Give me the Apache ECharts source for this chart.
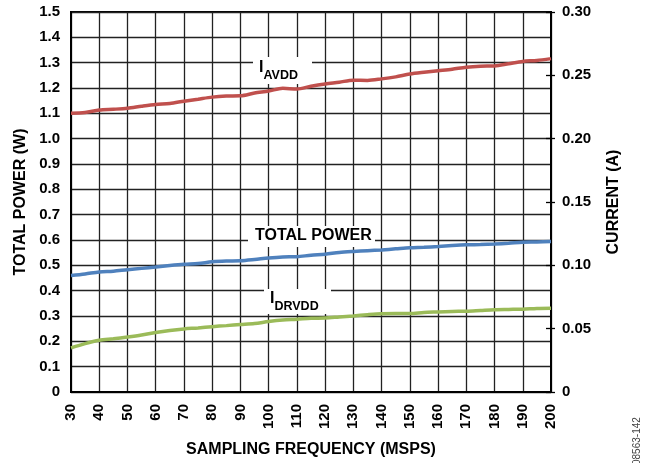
<!DOCTYPE html>
<html><head><meta charset="utf-8">
<script src="https://cdn.jsdelivr.net/npm/echarts@6/dist/echarts.min.js"></script>
<style>html,body{margin:0;padding:0;background:#fff}#c{width:649px;height:463px}</style>
</head><body><div id="c"></div>
<script>
var freq = [30,35,40,45,50,55,60,65,70,75,80,85,90,95,100,105,110,115,120,125,130,135,140,145,150,155,160,165,170,175,180,185,190,195,200];
// Total power (W), left axis
var totalPower = [0.460,0.466,0.474,0.477,0.483,0.488,0.493,0.499,0.504,0.507,0.514,0.517,0.518,0.523,0.529,0.533,0.534,0.540,0.544,0.551,0.555,0.558,0.561,0.565,0.569,0.571,0.574,0.578,0.581,0.582,0.584,0.587,0.591,0.592,0.594];
// I_AVDD current (A), right axis
var iAvdd = [0.2200,0.2206,0.2226,0.2232,0.2240,0.2256,0.2270,0.2278,0.2296,0.2312,0.2328,0.2336,0.2338,0.2360,0.2376,0.2398,0.2392,0.2414,0.2432,0.2446,0.2462,0.2460,0.2472,0.2488,0.2510,0.2524,0.2536,0.2548,0.2564,0.2572,0.2574,0.2592,0.2610,0.2618,0.2632];
// I_DRVDD current (A), right axis
var iDrvdd = [0.0348,0.0382,0.0408,0.0420,0.0434,0.0450,0.0470,0.0486,0.0498,0.0506,0.0516,0.0524,0.0532,0.0540,0.0556,0.0568,0.0574,0.0582,0.0584,0.0592,0.0600,0.0610,0.0618,0.0620,0.0620,0.0628,0.0632,0.0636,0.0638,0.0644,0.0650,0.0652,0.0654,0.0660,0.0662];

function pairs(xs, ys){ return xs.map(function(x,i){return [x, ys[i]];}); }
var F = 'Liberation Sans, Arial, sans-serif';
var nameStyle = {fontFamily: F, fontWeight: 'bold', fontSize: 16, color: '#000'};
var tickStyle = {fontFamily: F, fontWeight: 'bold', fontSize: 15, color: '#000'};
var chart = echarts.init(document.getElementById('c'));
chart.setOption({
  animation: false,
  grid: {left: 71, right: 98, top: 12, bottom: 69, show: true, borderColor: '#000', borderWidth: 2, backgroundColor: 'transparent'},
  xAxis: {
    type: 'value', min: 30, max: 200, interval: 10,
    name: 'SAMPLING FREQUENCY (MSPS)', nameLocation: 'middle', nameGap: 50,
    nameTextStyle: nameStyle,
    axisLine: {lineStyle: {color: '#000', width: 2}},
    axisTick: {show: false},
    axisLabel: Object.assign({rotate: 90, margin: 12}, tickStyle),
    splitLine: {lineStyle: {color: '#222', width: 1.3}}
  },
  yAxis: [{
    type: 'value', min: 0, max: 1.5, interval: 0.1,
    name: 'TOTAL POWER (W)', nameLocation: 'middle', nameGap: 42, nameRotate: 90,
    nameTextStyle: nameStyle,
    axisLine: {show: true, lineStyle: {color: '#000', width: 2}},
    axisTick: {show: false},
    axisLabel: Object.assign({margin: 11, formatter: function(v){ return v === 0 ? '0' : v.toFixed(1); }}, tickStyle),
    splitLine: {lineStyle: {color: '#222', width: 1.3}}
  },{
    type: 'value', min: 0, max: 0.3, interval: 0.05, position: 'right',
    name: 'CURRENT (A)', nameLocation: 'middle', nameGap: 55, nameRotate: 90,
    nameTextStyle: nameStyle,
    axisLine: {show: true, lineStyle: {color: '#000', width: 2}},
    axisTick: {show: true, inside: true, length: 5, lineStyle: {color: '#000', width: 1.3}},
    axisLabel: Object.assign({margin: 11, formatter: function(v){ return v === 0 ? '0' : v.toFixed(2); }}, tickStyle),
    splitLine: {show: false}
  },{
    type: 'value', min: 0, max: 0.3, interval: 0.05, position: 'right',
    axisLine: {show: false},
    axisTick: {show: true, inside: false, length: 4, lineStyle: {color: '#000', width: 1.3}},
    axisLabel: {show: false},
    splitLine: {show: false}
  }],
  series: [
    {type: 'line', name: 'IAVDD', yAxisIndex: 1, data: pairs(freq, iAvdd), showSymbol: false, smooth: 0.3,
     lineStyle: {color: '#c0504d', width: 3.5}, z: 3},
    {type: 'line', name: 'TOTAL POWER', yAxisIndex: 0, data: pairs(freq, totalPower), showSymbol: false, smooth: 0.3,
     lineStyle: {color: '#4f81bd', width: 3.5}, z: 3},
    {type: 'line', name: 'IDRVDD', yAxisIndex: 1, data: pairs(freq, iDrvdd), showSymbol: false, smooth: 0.3,
     lineStyle: {color: '#9bbb59', width: 3.5}, z: 3}
  ],
  graphic: [
    {type: 'rect', shape: {x: 253, y: 57, width: 59, height: 27}, style: {fill: '#fff'}, z: 10},
    {type: 'text', left: 259, top: 60, z: 11, style: {
      text: '{a|I}{b|AVDD}', rich: {
        a: {fontFamily: F, fontWeight: 'bold', fontSize: 16, fill: '#000', verticalAlign: 'top', lineHeight: 16},
        b: {fontFamily: F, fontWeight: 'bold', fontSize: 12.5, fill: '#000', verticalAlign: 'bottom', lineHeight: 22, padding: [8,0,0,0]}
      }}},
    {type: 'rect', shape: {x: 248, y: 226, width: 127, height: 21}, style: {fill: '#fff'}, z: 10},
    {type: 'text', left: 255, top: 228, z: 11, style: {text: 'TOTAL POWER', fontFamily: F, fontWeight: 'bold', fontSize: 16, fill: '#000'}},
    {type: 'rect', shape: {x: 264, y: 289, width: 67, height: 25}, style: {fill: '#fff'}, z: 10},
    {type: 'text', left: 270, top: 291, z: 11, style: {
      text: '{a|I}{b|DRVDD}', rich: {
        a: {fontFamily: F, fontWeight: 'bold', fontSize: 16, fill: '#000', verticalAlign: 'top', lineHeight: 16},
        b: {fontFamily: F, fontWeight: 'bold', fontSize: 12.5, fill: '#000', verticalAlign: 'bottom', lineHeight: 22, padding: [8,0,0,0]}
      }}},
    {type: 'text', x: 632, y: 465, rotation: Math.PI/2, z: 11, style: {text: '08563-142', fontFamily: F, fontSize: 10, fill: '#444', textAlign: 'left', textVerticalAlign: 'top'}}
  ]
});
</script></body></html>
